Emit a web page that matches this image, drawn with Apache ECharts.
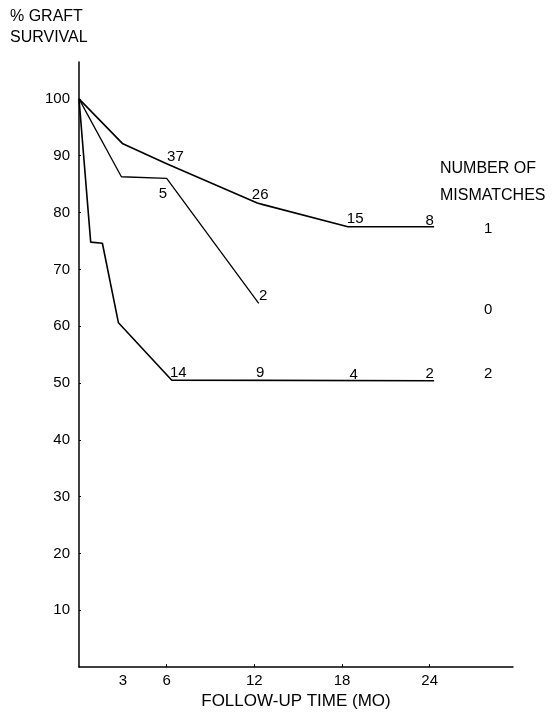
<!DOCTYPE html>
<html>
<head>
<meta charset="utf-8">
<script src="https://cdn.jsdelivr.net/npm/echarts@6/dist/echarts.min.js"></script>
<style>
  html, body { margin: 0; padding: 0; background: #fff; }
  #chart { width: 552px; height: 715px; }
</style>
</head>
<body>
<div id="chart"></div>
<script>
// survival curves, one per number of mismatches (month, % graft survival)
const months1 = [0, 3, 6, 12.2, 12.6, 18.4, 24.3];
const survival1 = [100, 92.1, 88.6, 81.7, 81.4, 77.5, 77.5];
const months0 = [0, 2.9, 6.0, 12.3];
const survival0 = [100, 86.3, 86.0, 64.0];
const months2 = [0, 0.8, 1.6, 2.7, 6.35, 24.3];
const survival2 = [100, 74.8, 74.6, 60.6, 50.5, 50.4];

// number of grafts at risk, written along the curves
const riskMonths = [6.6, 12.4, 18.9, 24.0, 5.75, 12.6, 6.8, 12.4, 18.8, 24.0];
const riskLevels = [90.1, 83.4, 79.2, 78.9, 83.7, 65.7, 52.2, 52.1, 51.7, 51.9];
const riskCounts = ['37', '26', '15', '8', '5', '2', '14', '9', '4', '2'];

// mismatch key at the right
const mismatchNames = ['1', '0', '2'];
const mismatchLevels = [77.5, 63.3, 51.9];

const xTickLabels = [3, 6, 12, 18, 24];
const xTicks = [6, 12, 18, 24];
const yTicks = [10, 20, 30, 40, 50, 60, 70, 80, 90, 100];

const font = '"Liberation Sans", Arial, sans-serif';
const ink = '#000';

const pairs = (xs, ys) => xs.map((x, i) => [x, ys[i]]);

const chart = echarts.init(document.getElementById('chart'));

const lineStyle = { color: ink, width: 1.6 };
const textLabel = {
  show: true, position: 'inside', opacity: 1, offset: [0, 2],
  color: ink, fontFamily: font, fontSize: 15, textBorderWidth: 0
};

const option = {
  animation: false,
  backgroundColor: '#fff',
  grid: { left: 79, right: 39, top: 62, bottom: 37 },
  xAxis: {
    type: 'value',
    min: 0,
    max: 29.7,
    name: 'FOLLOW-UP TIME (MO)',
    nameLocation: 'middle',
    nameGap: 24,
    nameTextStyle: { color: ink, fontFamily: font, fontSize: 17 },
    axisLine: { lineStyle: { color: ink, width: 1.5 } },
    axisTick: { show: true, inside: true, length: 3, customValues: xTicks, lineStyle: { color: ink } },
    axisLabel: { customValues: xTickLabels, color: ink, fontFamily: font, fontSize: 15, margin: 6 },
    splitLine: { show: false }
  },
  yAxis: {
    type: 'value',
    min: 0,
    max: 106.5,
    axisLine: { show: true, lineStyle: { color: ink, width: 1.5 } },
    axisTick: { show: true, inside: true, length: 2, customValues: yTicks, lineStyle: { color: ink } },
    axisLabel: { customValues: yTicks, color: ink, fontFamily: font, fontSize: 15, margin: 9 },
    splitLine: { show: false }
  },
  graphic: [
    { type: 'text', left: 10, top: 9, style: { text: '% GRAFT', font: '16px ' + font, fill: ink } },
    { type: 'text', left: 10, top: 30, style: { text: 'SURVIVAL', font: '16px ' + font, fill: ink } },
    { type: 'text', left: 440, top: 161, style: { text: 'NUMBER OF', font: '16px ' + font, fill: ink } },
    { type: 'text', left: 440, top: 188, style: { text: 'MISMATCHES', font: '16px ' + font, fill: ink } }
  ],
  series: [
    {
      name: '1', type: 'line', data: pairs(months1, survival1),
      showSymbol: false, lineStyle, silent: true
    },
    {
      name: '0', type: 'line', data: pairs(months0, survival0),
      showSymbol: false, lineStyle: { color: ink, width: 1.3 }, silent: true
    },
    {
      name: '2', type: 'line', data: pairs(months2, survival2),
      showSymbol: false, lineStyle, silent: true
    },
    {
      name: 'at risk', type: 'scatter', symbolSize: 0, silent: true,
      itemStyle: { color: 'transparent', opacity: 1 },
      data: riskMonths.map((m, i) => ({ value: [m, riskLevels[i]], label: { formatter: riskCounts[i] } })),
      label: textLabel
    },
    {
      name: 'mismatches', type: 'scatter', symbolSize: 0, silent: true,
      itemStyle: { color: 'transparent', opacity: 1 },
      data: mismatchNames.map((n, i) => ({ value: [28.0, mismatchLevels[i]], label: { formatter: n } })),
      label: textLabel
    }
  ]
};

chart.setOption(option);
</script>
</body>
</html>
